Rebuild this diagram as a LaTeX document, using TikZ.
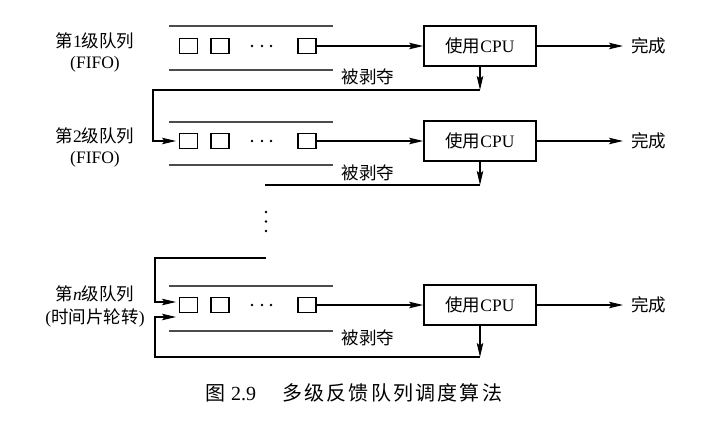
\documentclass[tikz,border=0pt]{standalone}
\usepackage{fontspec}
\setmainfont{Liberation Serif}
\newfontfamily\cjk{Noto Sans CJK SC}
\newfontfamily\cjkcap[LetterSpace=11]{Noto Sans CJK SC}
\usetikzlibrary{arrows.meta}
\newcommand\zh[1]{{\cjk #1}}
\begin{document}
\begin{tikzpicture}[x=1pt,y=-1pt,
  txt/.style={font=\fontsize{17.5}{21}\selectfont, inner sep=0pt},
  qline/.style={draw=black!70, line width=1.3pt},
  sq/.style={draw, line width=1.5pt, minimum width=18pt, minimum height=15pt, inner sep=0pt},
  cpu/.style={draw, line width=1.7pt, minimum width=112pt, minimum height=40pt, inner sep=0pt, font=\fontsize{17.5}{21}\selectfont},
  conn/.style={line width=1.3pt},
  arr/.style={conn, -{Stealth[length=14pt,width=6.5pt,inset=2.5pt]}},
  dotm/.style={circle, fill, inner sep=0pt, minimum size=2.8pt}
]
\path[fill=white] (0,0) rectangle (727,420);
\useasboundingbox (0,0) rectangle (727,420);

% rows
\foreach \r/\y/\qt/\qb/\py/\ly in {1/46/26/70/90/77, 2/141/122/165/185/173, n/305/286/331/357/338}{
  \coordinate (qtl\r) at (169,\qt); \coordinate (qtr\r) at (333,\qt);
  \coordinate (qbl\r) at (169,\qb); \coordinate (qbr\r) at (333,\qb);
  \draw[qline] (qtl\r) -- (qtr\r);
  \draw[qline] (qbl\r) -- (qbr\r);
  \node[sq] (sa\r) at (188.5,\y) {};
  \node[sq] (sb\r) at (220,\y) {};
  \node[sq] (sc\r) at (307,\y) {};
  \node[dotm] (da\r) at (252,\y) {};
  \node[dotm] (db\r) at (262,\y) {};
  \node[dotm] (dc\r) at (271,\y) {};
  \node[cpu] (cpu\r) at (480,\y) {\zh{使用}CPU};
  \node[txt, anchor=west] (done\r) at (631,\y) {\zh{完成}};
  \draw[arr] (sc\r.east) -- (cpu\r.west);
  \draw[arr] (cpu\r.east) -- (done\r.west -| 623,0);
  \coordinate (p\r) at (480,\py);
  \draw[arr] (cpu\r.south) -- (p\r);
  \node[txt] (pre\r) at (368,\ly) {\zh{被剥夺}};
}

% level labels
\node[txt, align=center] (lab1) at (95,52) {\zh{第}1\zh{级队列}\\(FIFO)};
\node[txt, align=center] (lab2) at (95,147.5) {\zh{第}2\zh{级队列}\\(FIFO)};
\node[txt, align=center, font=\fontsize{17.5}{23}\selectfont] (labn) at (95,306.5) {\zh{第}\textit{n}\zh{级队列}\\(\zh{时间片轮转})};

% feedback level 1 -> level 2
\coordinate (f1a) at (153,90);
\coordinate (f1b) at (153,141);
\coordinate (in2) at (176,141);
\draw[arr] (p1) -- (f1a) -- (f1b) -- (in2);

% level 2 outgoing
\coordinate (e2) at (265,185);
\draw[conn] (p2) -- (e2);

% vertical dots
\node[dotm] (vd1) at (266,212) {};
\node[dotm] (vd2) at (266,221.5) {};
\node[dotm] (vd3) at (266,231) {};

% into level n from above
\coordinate (t0) at (266,258);
\coordinate (t1) at (155,258);
\coordinate (t2) at (155,302);
\coordinate (inn1) at (176,302);
\draw[arr] (t0) -- (t1) -- (t2) -- (inn1);

% level n round-robin feedback
\coordinate (b1) at (155,357);
\coordinate (b2) at (155,317);
\coordinate (inn2) at (176,317);
\draw[arr] (pn) -- (b1) -- (b2) -- (inn2);

% caption
\node[anchor=west, inner sep=0pt, font=\fontsize{20}{24}\selectfont] (cap) at (205,393)
  {{\cjkcap 图}\hspace{6pt}2.9\hspace{26pt}{\cjkcap 多级反馈队列调度算法}};
\end{tikzpicture}
\end{document}
